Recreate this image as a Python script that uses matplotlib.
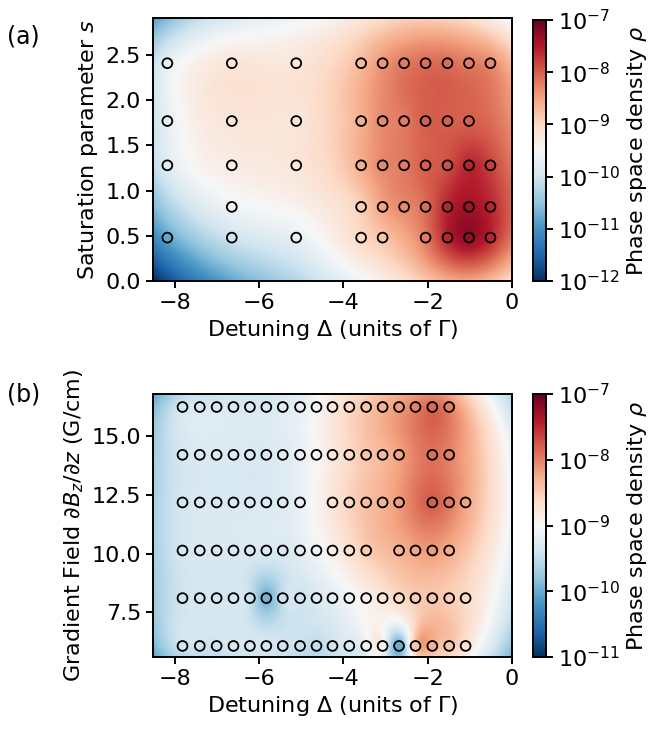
import numpy as np
import matplotlib
matplotlib.use('Agg')
import matplotlib.pyplot as plt
from matplotlib.colors import LogNorm

nan = np.nan

# (a) detuning scan vs saturation parameter, log10 of phase space density
det_a = [-8.18, -6.65, -5.12, -3.58, -3.07, -2.56, -2.05, -1.53, -1.02, -0.51]
sat_a = [0.48, 0.82, 1.28, 1.77, 2.41]
logrho_a = [
    [-10.8, -10.0, -9.7, -9.0, -8.8, nan, -8.2, -7.6, -7.3, -7.6],
    [nan, -9.6, nan, -8.9, -8.5, -8.3, -8.1, -7.6, -7.4, -7.6],
    [-9.8, -9.3, -9.2, -8.6, -8.3, -8.2, -8.0, -7.9, -7.6, -7.8],
    [-9.7, -9.2, -9.2, -8.6, -8.3, -8.2, -8.0, -8.0, -8.0, nan],
    [-9.7, -9.2, -9.2, -8.7, -8.4, -8.2, -8.1, -8.1, -8.2, -8.3],
]

# (b) detuning scan vs gradient field
det_b = [-7.82, -7.41, -7.01, -6.61, -6.22, -5.83, -5.44, -5.03, -4.64,
         -4.26, -3.86, -3.46, -3.07, -2.68, -2.29, -1.89, -1.49, -1.10]
grad_b = [6.08, 8.11, 10.13, 12.17, 14.19, 16.22]
logrho_b = [
    [-9.4, -9.4, -9.4, -9.35, -9.35, -9.35, -9.4, -9.45, -9.5, -9.4, -9.3, -9.1, -8.95, -10.0, -8.45, -8.3, -8.45, -8.7],
    [-9.4, -9.35, -9.35, -9.35, -9.45, -9.95, -9.45, -9.4, -9.3, -9.2, -9.05, -8.9, -8.75, -8.6, -8.5, -8.45, -8.5, -8.6],
    [-9.35, -9.3, -9.3, -9.3, -9.3, -9.3, -9.3, -9.2, -9.05, -8.9, -8.7, -8.5, nan, -8.3, -8.2, -8.15, -8.25, nan],
    [-9.35, -9.3, -9.3, -9.3, -9.3, -9.3, -9.25, -9.15, nan, -8.75, -8.55, -8.4, -8.3, -8.15, nan, -7.8, -7.95, -8.2],
    [-9.35, -9.3, -9.3, -9.3, -9.3, -9.3, -9.25, -9.15, -9.0, -8.8, -8.6, -8.45, -8.35, -8.2, nan, -7.9, -8.0, nan],
    [-9.35, -9.3, -9.3, -9.3, -9.3, -9.3, -9.25, -9.15, -9.0, -8.8, -8.6, -8.45, -8.3, -8.15, -8.0, -7.85, -8.0, nan],
]


def points(xs, ys, table):
    px, py, pv = [], [], []
    for j, y in enumerate(ys):
        for i, x in enumerate(xs):
            if not np.isnan(table[j][i]):
                px.append(x)
                py.append(y)
                pv.append(table[j][i])
    return np.array(px), np.array(py), np.array(pv)


def rbf(px, py, pv, gx, gy, sx, sy, eps):
    # multiquadric rbf on log values, coordinates scaled by sx, sy
    ux, uy = px * sx, py * sy
    r = np.hypot(ux[:, None] - ux[None, :], uy[:, None] - uy[None, :])
    w = np.linalg.solve(np.sqrt((r / eps) ** 2 + 1), pv)
    rg = np.hypot(gx.ravel()[:, None] * sx - ux[None, :], gy.ravel()[:, None] * sy - uy[None, :])
    return (np.sqrt((rg / eps) ** 2 + 1) @ w).reshape(gx.shape)


def panel(ax, cax, xs, ys, table, ylim, vmin, vmax):
    px, py, pv = points(xs, ys, table)
    norm = LogNorm(vmin=vmin, vmax=vmax)
    xlim = (-8.52, 0)
    gx, gy = np.meshgrid(np.linspace(xlim[0], xlim[1], 300), np.linspace(ylim[0], ylim[1], 300))
    # scale to roughly screen-isotropic units
    sx = 1.365 / (xlim[1] - xlim[0])
    sy = 1.0 / (ylim[1] - ylim[0])
    grid = 10 ** rbf(px, py, pv, gx, gy, sx, sy, 0.06)
    im = ax.imshow(grid, origin='lower', extent=(xlim[0], xlim[1], ylim[0], ylim[1]),
                   aspect='auto', cmap='RdBu_r', norm=norm, interpolation='bilinear')
    ax.scatter(px, py, c=10 ** pv, cmap='RdBu_r', norm=norm, s=50,
               edgecolors='k', linewidths=1.3, zorder=3)
    ax.set_xlim(xlim)
    ax.set_ylim(ylim)
    ax.set_xticks([-8, -6, -4, -2, 0])
    ax.set_xlabel(r'Detuning $\Delta$ (units of $\Gamma$)')
    cb = plt.colorbar(im, cax=cax)
    cb.set_label(r'Phase space density $\rho$')
    cb.minorticks_off()
    cb.outline.set_linewidth(1.4)
    return cb


plt.rcParams['font.size'] = 16
plt.rcParams['axes.linewidth'] = 1.4
for k in ('xtick', 'ytick'):
    plt.rcParams[k + '.major.width'] = 1.4
    plt.rcParams[k + '.major.size'] = 5

fig = plt.figure(figsize=(6.61, 7.35), dpi=100)

ax_a = fig.add_axes([0.2315, 0.6177, 0.543, 0.3578])
cax_a = fig.add_axes([0.806, 0.6177, 0.0197, 0.355])
panel(ax_a, cax_a, det_a, sat_a, logrho_a, (0, 2.91), 1e-12, 1e-7)
ax_a.set_yticks([0.0, 0.5, 1.0, 1.5, 2.0, 2.5])
ax_a.set_ylabel(r'Saturation parameter $s$')

ax_b = fig.add_axes([0.2315, 0.1061, 0.543, 0.3578])
cax_b = fig.add_axes([0.806, 0.1061, 0.0197, 0.3578])
panel(ax_b, cax_b, det_b, grad_b, logrho_b, (5.61, 16.77), 1e-11, 1e-7)
ax_b.set_yticks([7.5, 10.0, 12.5, 15.0])
ax_b.set_ylabel(r'Gradient Field $\partial B_z/\partial z$ (G/cm)')

fig.text(0.01, 0.95, '(a)', fontsize=17, va='center')
fig.text(0.01, 0.463, '(b)', fontsize=17, va='center')

fig.savefig('out.png', dpi=100)
